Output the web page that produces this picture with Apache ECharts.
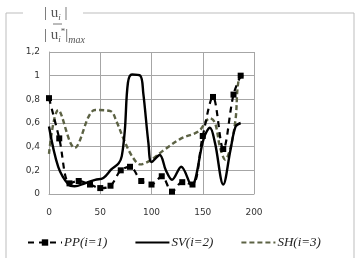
<!DOCTYPE html>
<html>
<head>
<meta charset="utf-8">
<script src="https://cdn.jsdelivr.net/npm/echarts@6/dist/echarts.min.js"></script>
<style>
  html, body { margin: 0; padding: 0; background: #fff; }
  #chart { width: 359px; height: 258px; }
</style>
</head>
<body>
<div id="chart"></div>
<script>
  // PP (i=1) - dashed with square markers
  var ppX = [0, 10, 20, 29, 40, 50, 60, 70, 79, 90, 100, 110, 120, 130, 140, 150, 160, 170, 180, 187]
  var ppY = [0.81, 0.47, 0.09, 0.11, 0.08, 0.05, 0.07, 0.2, 0.23, 0.11, 0.08, 0.15, 0.02, 0.1, 0.08, 0.49, 0.82, 0.38, 0.84, 1.0]
  // SV (i=2) - solid
  var svX = [0, 9, 19, 25, 35, 45, 53, 61, 68, 71, 74, 77, 81, 89, 92, 97, 100, 108, 114, 120, 129, 139, 151, 157, 162, 170, 177, 182, 187]
  var svY = [0.57, 0.23, 0.08, 0.065, 0.09, 0.12, 0.135, 0.21, 0.26, 0.32, 0.54, 0.94, 1.01, 1.0, 0.85, 0.43, 0.27, 0.33, 0.2, 0.12, 0.23, 0.07, 0.47, 0.56, 0.43, 0.08, 0.37, 0.57, 0.6]
  // SH (i=3) - grey dashed
  var shX = [0, 9, 25, 45, 60, 66, 73, 81, 89, 98, 112, 129, 146, 157, 162, 167, 172, 177, 182, 185, 190]
  var shY = [0.34, 0.71, 0.39, 0.71, 0.7, 0.61, 0.46, 0.32, 0.25, 0.28, 0.37, 0.47, 0.53, 0.64, 0.6, 0.39, 0.29, 0.39, 0.63, 0.96, 1.01]

  var xTicks = { min: 0, max: 200, interval: 50 }
  var yTicks = { min: 0, max: 1.2, interval: 0.2 }

  function pairs (xs, ys) {
    return xs.map(function (x, i) { return [x, ys[i]] })
  }

  var chart = echarts.init(document.getElementById('chart'))
  var gridColor = '#a6a6a6'
  var frameColor = '#bdbdbd'

  var option = {
    animation: false,
    grid: { left: 49, right: 105, top: 52, bottom: 64 },
    xAxis: {
      type: 'value',
      min: xTicks.min,
      max: xTicks.max,
      interval: xTicks.interval,
      axisLine: { show: true, lineStyle: { color: gridColor, width: 1 } },
      axisTick: { show: false },
      axisLabel: { margin: 14, color: '#333', fontSize: 9, fontFamily: 'DejaVu Sans' },
      splitLine: { show: true, lineStyle: { color: gridColor, width: 1 } }
    },
    yAxis: {
      type: 'value',
      min: yTicks.min,
      max: yTicks.max,
      interval: yTicks.interval,
      axisLine: { show: true, lineStyle: { color: gridColor, width: 1 } },
      axisTick: { show: false },
      axisLabel: {
        margin: 9,
        color: '#333',
        fontSize: 9,
        fontFamily: 'DejaVu Sans',
        formatter: function (v) { return String(Math.round(v * 10) / 10).replace('.', ',') }
      },
      splitLine: { show: true, lineStyle: { color: gridColor, width: 1 } }
    },
    legend: {
      left: 22,
      top: 231,
      itemWidth: 34,
      itemHeight: 8,
      itemGap: 27,
      textStyle: { fontFamily: 'Liberation Serif', fontStyle: 'italic', fontSize: 13, color: '#222', padding: [0, 0, 0, -3] },
      data: [
        { name: 'PP(i=1)' },
        { name: 'SV(i=2)', itemStyle: { opacity: 0 } },
        { name: 'SH(i=3)', itemStyle: { opacity: 0 } }
      ]
    },
    graphic: [
      {
        type: 'polyline',
        shape: { points: [[23, 13], [6, 13], [6, 260]] },
        style: { stroke: frameColor, lineWidth: 1, fill: null }
      },
      {
        type: 'polyline',
        shape: { points: [[83, 13], [354, 13], [354, 260]] },
        style: { stroke: frameColor, lineWidth: 1, fill: null }
      },
      {
        type: 'text',
        left: 44,
        top: 6,
        style: {
          text: '| {u|u}{s|i} |',
          fill: '#555',
          font: '15px "Liberation Serif"',
          rich: {
            u: { fontFamily: 'Liberation Serif', fontSize: 15, fill: '#555' },
            s: { fontFamily: 'Liberation Serif', fontSize: 9, fontStyle: 'italic', fill: '#555', verticalAlign: 'bottom', padding: [8, 0, 0, 0] }
          }
        }
      },
      {
        type: 'line',
        shape: { x1: 53, y1: 24, x2: 62, y2: 24 },
        style: { stroke: '#777', lineWidth: 1 }
      },
      {
        type: 'text',
        left: 44,
        top: 27,
        style: {
          text: '| {u|u}{s|i}{t|*}|{m|max}',
          fill: '#555',
          font: '15px "Liberation Serif"',
          rich: {
            u: { fontFamily: 'Liberation Serif', fontSize: 15, fill: '#555' },
            s: { fontFamily: 'Liberation Serif', fontSize: 9, fontStyle: 'italic', fill: '#555', padding: [8, 0, 0, 0] },
            t: { fontFamily: 'Liberation Serif', fontSize: 9, fill: '#555', padding: [0, 0, 8, 0] },
            m: { fontFamily: 'Liberation Serif', fontSize: 10, fontStyle: 'italic', fill: '#555', padding: [10, 0, 0, 0] }
          }
        }
      }
    ],
    series: [
      {
        name: 'PP(i=1)',
        type: 'line',
        smooth: 0.35,
        data: pairs(ppX, ppY),
        symbol: 'rect',
        symbolSize: 6,
        itemStyle: { color: '#000' },
        lineStyle: { color: '#000', width: 2.2, type: [6, 5] },
        z: 3
      },
      {
        name: 'SV(i=2)',
        type: 'line',
        smooth: 0.35,
        data: pairs(svX, svY),
        showSymbol: false,
        symbol: 'none',
        itemStyle: { color: '#000' },
        lineStyle: { color: '#000', width: 2.4 },
        z: 4
      },
      {
        name: 'SH(i=3)',
        type: 'line',
        smooth: 0.35,
        data: pairs(shX, shY),
        showSymbol: false,
        symbol: 'none',
        itemStyle: { color: '#5c6244' },
        lineStyle: { color: '#5c6244', width: 2.4, type: [5, 3] },
        z: 2
      }
    ]
  }

  chart.setOption(option)
</script>
</body>
</html>
